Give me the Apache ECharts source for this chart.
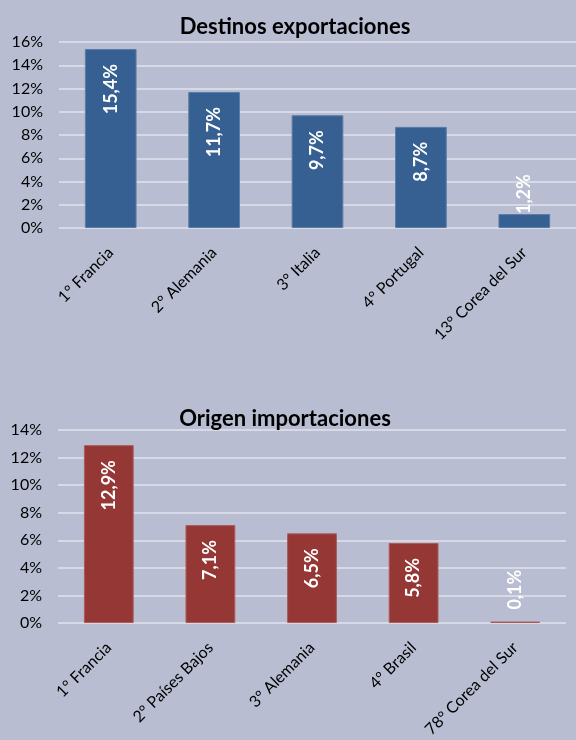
<!DOCTYPE html>
<html>
<head>
<meta charset="utf-8">
<script src="https://cdn.jsdelivr.net/npm/echarts@6/dist/echarts.min.js"></script>
<style>
  html, body { margin: 0; padding: 0; background: #b8bdd2; }
  #main { width: 576px; height: 740px; }
</style>
</head>
<body>
<div id="main"></div>
<script>
// datos exportaciones
var expTitle = 'Destinos exportaciones';
var expCategories = ['1° Francia', '2° Alemania', '3° Italia', '4° Portugal', '13° Corea del Sur'];
var expValues = [15.4, 11.7, 9.7, 8.7, 1.2];

// datos importaciones
var impTitle = 'Origen importaciones';
var impCategories = ['1° Francia', '2° Países Bajos', '3° Alemania', '4° Brasil', '78° Corea del Sur'];
var impValues = [12.9, 7.1, 6.5, 5.8, 0.1];

var FONT = 'Lato, "Open Sans", sans-serif';

function fmt(v) {
  return v.toFixed(1).replace('.', ',') + '%';
}

// etiquetas dentro de la barra, o encima si la barra es muy baja
function buildData(values, outsideDist) {
  return values.map(function (v) {
    if (v < 2) {
      return {
        value: v,
        label: { position: 'top', align: 'left', distance: outsideDist }
      };
    }
    return v;
  });
}

function yAxis(idx, max) {
  return {
    gridIndex: idx,
    type: 'value',
    min: 0,
    max: max,
    interval: 2,
    axisLine: { show: false },
    axisTick: { show: false },
    axisLabel: {
      formatter: '{value}%',
      color: '#000',
      fontFamily: FONT,
      fontSize: 16,
      margin: 16
    },
    splitLine: { lineStyle: { color: '#e2e4ec', width: 1.5 } }
  };
}

function xAxis(idx, cats) {
  return {
    gridIndex: idx,
    type: 'category',
    data: cats,
    axisLine: { show: false },
    axisTick: { show: false },
    axisLabel: {
      rotate: 45,
      interval: 0,
      color: '#000',
      fontFamily: FONT,
      fontSize: 16,
      margin: 22
    }
  };
}

function barLabel() {
  return {
    show: true,
    position: 'insideTop',
    rotate: 90,
    align: 'right',
    verticalAlign: 'middle',
    distance: 15,
    color: '#fff',
    fontFamily: FONT,
    fontWeight: 'bold',
    fontSize: 18,
    formatter: function (p) { return fmt(p.value); }
  };
}

var chart = echarts.init(document.getElementById('main'), null, { renderer: 'canvas' });

var option = {
  backgroundColor: '#b8bdd2',
  animation: false,
  title: [
    {
      text: expTitle,
      left: 290,
      top: 11,
      textAlign: 'center',
      textStyle: { fontFamily: FONT, fontSize: 22, fontWeight: 'bold', color: '#000' }
    },
    {
      text: impTitle,
      left: 280,
      top: 403,
      textAlign: 'center',
      textStyle: { fontFamily: FONT, fontSize: 22, fontWeight: 'bold', color: '#000' }
    }
  ],
  grid: [
    { left: 59, right: -12, top: 42, height: 186 },
    { left: 58, right: 10, top: 430, height: 193 }
  ],
  xAxis: [xAxis(0, expCategories), xAxis(1, impCategories)],
  yAxis: [yAxis(0, 16), yAxis(1, 14)],
  series: [
    {
      type: 'bar',
      xAxisIndex: 0,
      yAxisIndex: 0,
      barWidth: '50%',
      data: buildData(expValues, 0),
      itemStyle: { color: '#376092', borderColor: '#5a7ca6', borderWidth: 1 },
      label: barLabel()
    },
    {
      type: 'bar',
      xAxisIndex: 1,
      yAxisIndex: 1,
      barWidth: '49%',
      data: buildData(impValues, 12),
      itemStyle: { color: '#953735', borderColor: '#ad5a58', borderWidth: 1 },
      label: barLabel()
    }
  ]
};

chart.setOption(option);
</script>
</body>
</html>
